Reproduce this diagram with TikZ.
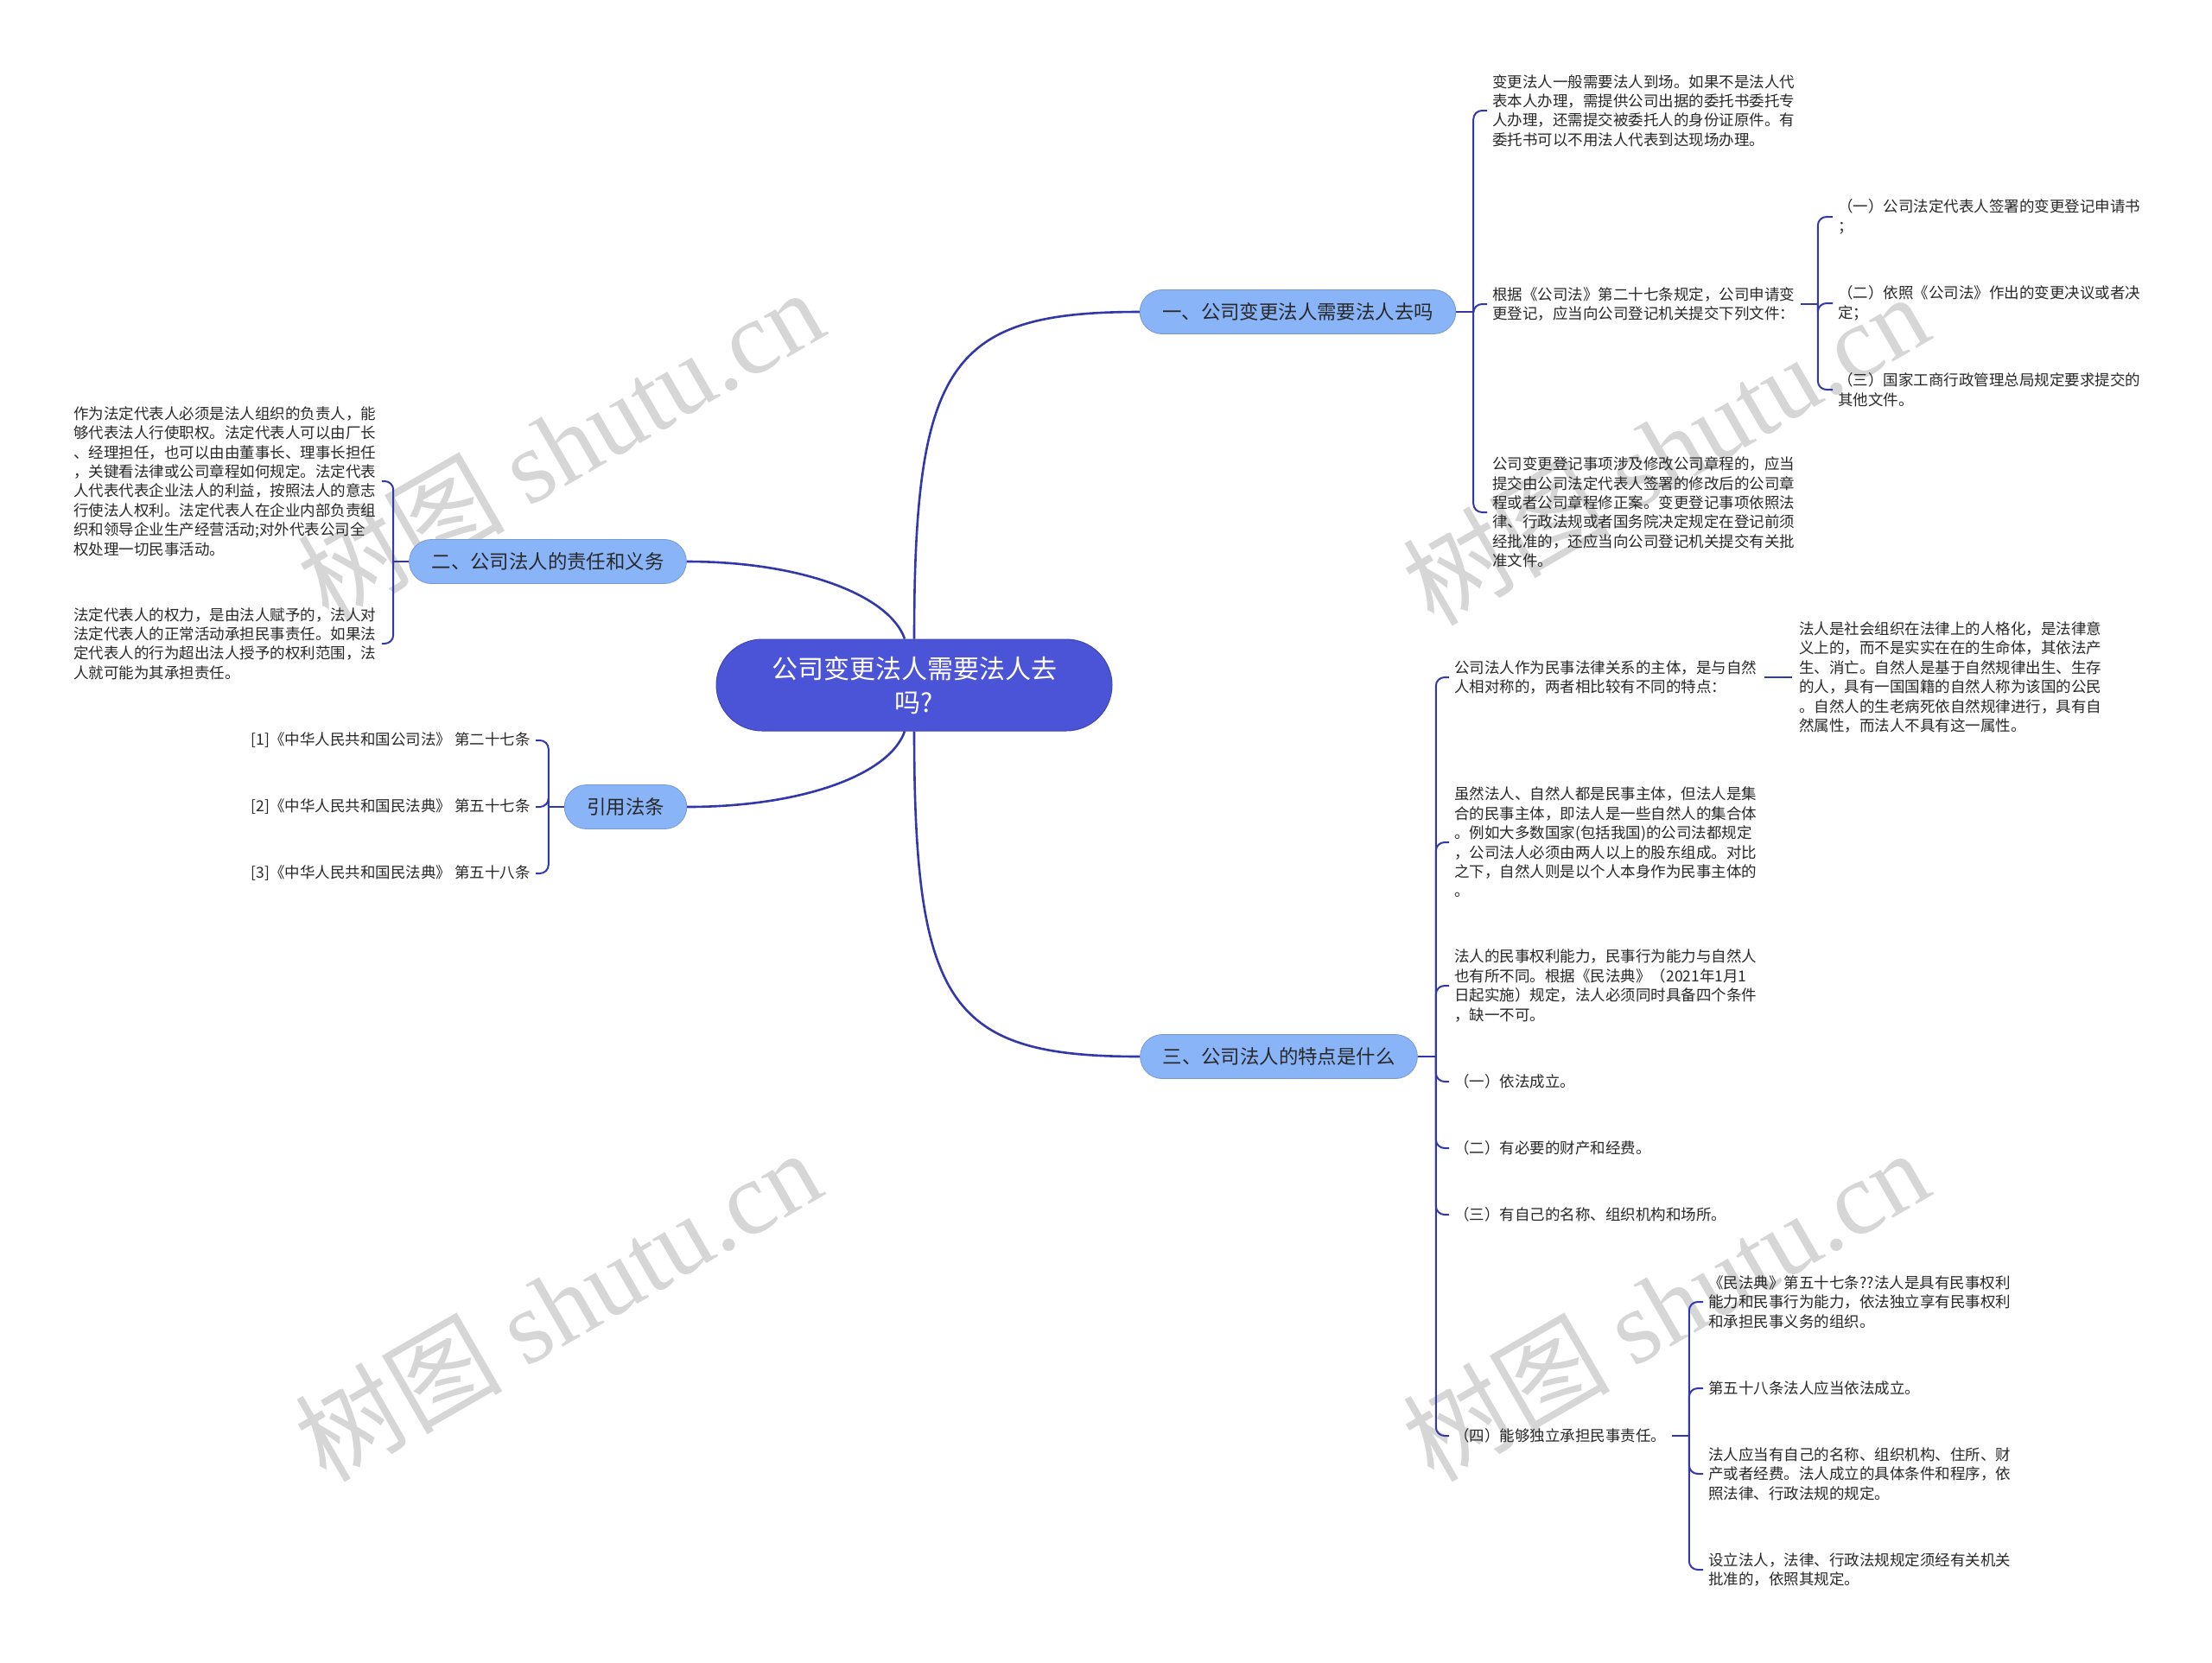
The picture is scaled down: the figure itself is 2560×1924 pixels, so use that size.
\documentclass[tikz,border=0pt]{standalone}
\usepackage{fontspec}
\setmainfont{Noto Sans CJK SC}
\newfontfamily\wmserif{Liberation Serif}
\definecolor{rootc}{RGB}{75,83,214}
\definecolor{branchc}{RGB}{138,180,248}
\definecolor{linec}{RGB}{50,56,170}
\definecolor{txt}{RGB}{40,40,40}
\definecolor{wm}{RGB}{214,214,214}
\tikzset{
  rootbox/.style={fill=rootc, draw=rootc!85!black, line width=0.5pt, rounded corners=26.5pt,
    minimum width=229pt, minimum height=53pt, text=white, align=center, inner sep=0pt,
    font=\fontsize{15}{19.5}\selectfont},
  branchbox/.style={fill=branchc, draw=branchc!85!black, line width=0.4pt, rounded corners=12.75pt,
    minimum height=25.5pt, inner xsep=13pt, inner ysep=0pt, text=txt,
    font=\fontsize{11.2}{13}\selectfont},
  leaf/.style={inner sep=0pt, align=left, text=txt, font=\fontsize{8.75}{11.2}\selectfont},
  trunk/.style={draw=linec, line width=1.3pt},
  twig/.style={draw=linec, line width=1pt, rounded corners=5pt},
  wmark/.style={text=wm, rotate=30, inner sep=0pt, font=\fontsize{60}{60}\selectfont}
}
\begin{document}
\begin{tikzpicture}[x=0.5pt,y=-0.5pt]
\useasboundingbox (0,0) rectangle (2560,1924);
\fill[white] (0,0) rectangle (2560,1924);
% watermarks
\node[wmark] (wm1) at (648,514) {树图 {\wmserif shutu.cn}};
\node[wmark] (wm2) at (1927,519) {树图 {\wmserif shutu.cn}};
\node[wmark] (wm3) at (645,1510) {树图 {\wmserif shutu.cn}};
\node[wmark] (wm4) at (1927,1510) {树图 {\wmserif shutu.cn}};
% root and branches
\node[rootbox] (root) at (1058,793) {公司变更法人需要法人去\\吗?};
\node[branchbox] (b1) at (1502,361) {一、公司变更法人需要法人去吗};
\node[branchbox] (b2) at (634,650) {二、公司法人的责任和义务};
\node[branchbox] (b3) at (724,934) {引用法条};
\node[branchbox] (b4) at (1480,1223) {三、公司法人的特点是什么};
% branch 1 children
\node[leaf,anchor=west] (c1) at (1727,128) {变更法人一般需要法人到场。如果不是法人代\\表本人办理，需提供公司出据的委托书委托专\\人办理，还需提交被委托人的身份证原件。有\\委托书可以不用法人代表到达现场办理。};
\node[leaf,anchor=west] (c2) at (1727,352) {根据《公司法》第二十七条规定，公司申请变\\更登记，应当向公司登记机关提交下列文件：};
\node[leaf,anchor=west] (c3) at (1727,593) {公司变更登记事项涉及修改公司章程的，应当\\提交由公司法定代表人签署的修改后的公司章\\程或者公司章程修正案。变更登记事项依照法\\律、行政法规或者国务院决定规定在登记前须\\经批准的，还应当向公司登记机关提交有关批\\准文件。};
\node[leaf,anchor=west] (g1) at (2127,251) {（一）公司法定代表人签署的变更登记申请书\\；};
\node[leaf,anchor=west] (g2) at (2127,351) {（二）依照《公司法》作出的变更决议或者决\\定；};
\node[leaf,anchor=west] (g3) at (2127,451) {（三）国家工商行政管理总局规定要求提交的\\其他文件。};
% branch 3 children
\node[leaf,anchor=west] (d1) at (1683,784) {公司法人作为民事法律关系的主体，是与自然\\人相对称的，两者相比较有不同的特点：};
\node[leaf,anchor=west] (e1) at (2082,784) {法人是社会组织在法律上的人格化，是法律意\\义上的，而不是实实在在的生命体，其依法产\\生、消亡。自然人是基于自然规律出生、生存\\的人，具有一国国籍的自然人称为该国的公民\\。自然人的生老病死依自然规律进行，具有自\\然属性，而法人不具有这一属性。};
\node[leaf,anchor=west] (d2) at (1683,975) {虽然法人、自然人都是民事主体，但法人是集\\合的民事主体，即法人是一些自然人的集合体\\。例如大多数国家(包括我国)的公司法都规定\\，公司法人必须由两人以上的股东组成。对比\\之下，自然人则是以个人本身作为民事主体的\\。};
\node[leaf,anchor=west] (d3) at (1683,1141) {法人的民事权利能力，民事行为能力与自然人\\也有所不同。根据《民法典》（2021年1月1\\日起实施）规定，法人必须同时具备四个条件\\，缺一不可。};
\node[leaf,anchor=west] (d4) at (1683,1252) {（一）依法成立。};
\node[leaf,anchor=west] (d5) at (1683,1329) {（二）有必要的财产和经费。};
\node[leaf,anchor=west] (d6) at (1683,1406) {（三）有自己的名称、组织机构和场所。};
\node[leaf,anchor=west] (d7) at (1683,1662) {（四）能够独立承担民事责任。};
\node[leaf,anchor=west] (f1) at (1977,1507) {《民法典》第五十七条??法人是具有民事权利\\能力和民事行为能力，依法独立享有民事权利\\和承担民事义务的组织。};
\node[leaf,anchor=west] (f2) at (1977,1607) {第五十八条法人应当依法成立。};
\node[leaf,anchor=west] (f3) at (1977,1706) {法人应当有自己的名称、组织机构、住所、财\\产或者经费。法人成立的具体条件和程序，依\\照法律、行政法规的规定。};
\node[leaf,anchor=west] (f4) at (1977,1817) {设立法人，法律、行政法规规定须经有关机关\\批准的，依照其规定。};
% branch 2 children
\node[leaf,anchor=west] (h1) at (85,557) {作为法定代表人必须是法人组织的负责人，能\\够代表法人行使职权。法定代表人可以由厂长\\、经理担任，也可以由由董事长、理事长担任\\，关键看法律或公司章程如何规定。法定代表\\人代表代表企业法人的利益，按照法人的意志\\行使法人权利。法定代表人在企业内部负责组\\织和领导企业生产经营活动;对外代表公司全\\权处理一切民事活动。};
\node[leaf,anchor=west] (h2) at (85,745) {法定代表人的权力，是由法人赋予的，法人对\\法定代表人的正常活动承担民事责任。如果法\\定代表人的行为超出法人授予的权利范围，法\\人就可能为其承担责任。};
% citation children
\node[leaf,anchor=east] (r1) at (614,857) {[1]《中华人民共和国公司法》 第二十七条};
\node[leaf,anchor=east] (r2) at (614,934) {[2]《中华人民共和国民法典》 第五十七条};
\node[leaf,anchor=east] (r3) at (614,1011) {[3]《中华人民共和国民法典》 第五十八条};
% trunk connectors
\draw[trunk] ([xshift=0pt]root.north) .. controls (1058,420) and (1100,361) .. (b1.west);
\draw[trunk] ([xshift=0pt]root.south) .. controls (1058,1165) and (1100,1223) .. (b4.west);
\draw[trunk] ([xshift=-5.5pt]root.north) .. controls (1030,690) and (930,650) .. (b2.east);
\draw[trunk] ([xshift=-5.5pt]root.south) .. controls (1030,896) and (930,934) .. (b3.east);
% twigs branch 1
\draw[twig] (b1.east) -- ++(20,0) coordinate (j1);
\foreach \c in {c1,c2,c3} \draw[twig] (j1) |- ([xshift=-3pt]\c.west);
\draw[twig] ([xshift=3pt]c2.east) -- ++(20,0) coordinate (j2);
\foreach \c in {g1,g2,g3} \draw[twig] (j2) |- ([xshift=-3pt]\c.west);
% twigs branch 3
\draw[twig] (b4.east) -- ++(21,0) coordinate (j3);
\foreach \c in {d1,d2,d3,d4,d5,d6,d7} \draw[twig] (j3) |- ([xshift=-3pt]\c.west);
\draw[twig] ([xshift=4pt]d1.east) -- ([xshift=-4pt]e1.west);
\draw[twig] ([xshift=3pt]d7.east) -- ++(20,0) coordinate (j4);
\foreach \c in {f1,f2,f3,f4} \draw[twig] (j4) |- ([xshift=-3pt]\c.west);
% twigs branch 2
\draw[twig] (b2.west) -- ++(-18,0) coordinate (j5);
\foreach \c in {h1,h2} \draw[twig] (j5) |- ([xshift=3pt]\c.east);
% twigs citations
\draw[twig] (b3.west) -- ++(-18,0) coordinate (j6);
\foreach \c in {r1,r2,r3} \draw[twig] (j6) |- ([xshift=3pt]\c.east);
\end{tikzpicture}
\end{document}
